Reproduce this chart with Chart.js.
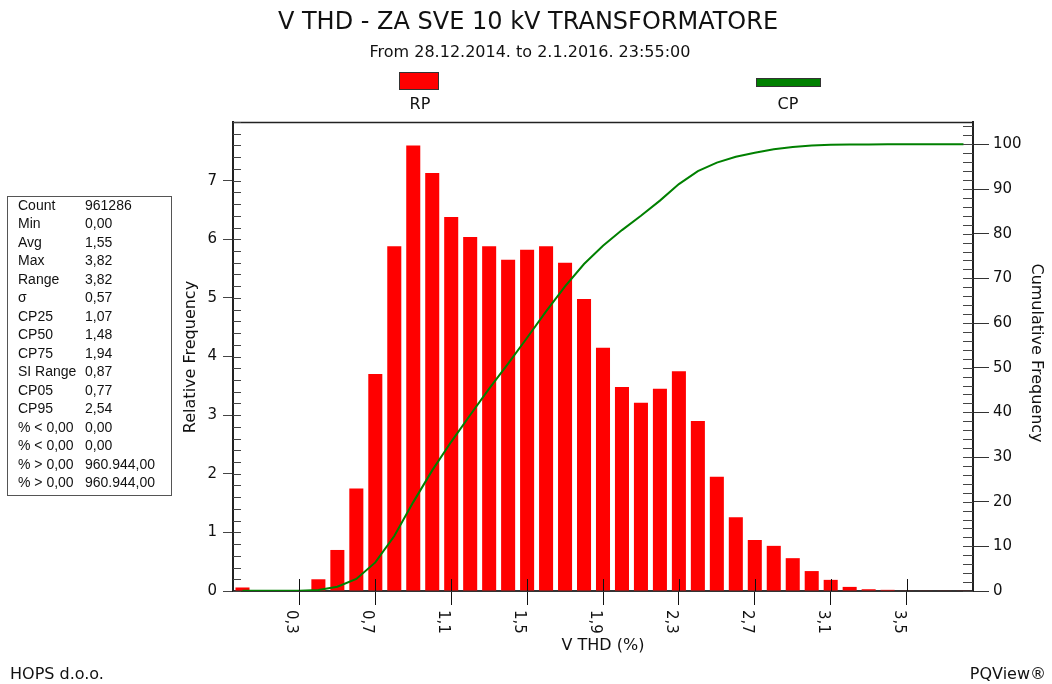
<!DOCTYPE html>
<html>
<head>
<meta charset="utf-8">
<title>V THD - ZA SVE 10 kV TRANSFORMATORE</title>
<script src="https://cdn.jsdelivr.net/npm/chart.js@4.4.1/dist/chart.umd.min.js"></script>
<style>
    html, body { margin: 0; padding: 0; background: #fff; }
    #wrap { width: 1052px; height: 684px; }
</style>
</head>
<body>
<div id="wrap"><canvas id="thd" width="1052" height="684"></canvas></div>
<script>
(function () {
    "use strict";

    // Bin centres, V THD (%)
    var bins = [0.0, 0.1, 0.2, 0.3, 0.4, 0.5, 0.6, 0.7, 0.8, 0.9,
                1.0, 1.1, 1.2, 1.3, 1.4, 1.5, 1.6, 1.7, 1.8, 1.9,
                2.0, 2.1, 2.2, 2.3, 2.4, 2.5, 2.6, 2.7, 2.8, 2.9,
                3.0, 3.1, 3.2, 3.3, 3.4, 3.5, 3.6, 3.7, 3.8];

    // RP - relative frequency (%)
    var relFreq = [0.06, 0, 0, 0, 0.2, 0.7, 1.75, 3.7, 5.88, 7.6,
                   7.13, 6.38, 6.04, 5.88, 5.65, 5.82, 5.88, 5.6, 4.98, 4.15,
                   3.48, 3.21, 3.45, 3.75, 2.9, 1.95, 1.26, 0.87, 0.77, 0.56,
                   0.34, 0.19, 0.07, 0.03, 0.02, 0.01, 0.01, 0.01, 0.01];

    // CP - cumulative frequency (%)
    var cumFreq = [0.05, 0.05, 0.05, 0.05, 0.25, 0.95, 2.7, 6.4, 12.3, 19.9,
                   27.0, 33.4, 39.4, 45.3, 50.9, 56.7, 62.6, 68.2, 73.2, 77.3,
                   80.8, 84.0, 87.4, 91.1, 94.0, 95.9, 97.2, 98.1, 98.9, 99.4,
                   99.75, 99.92, 99.97, 99.99, 100, 100, 100, 100, 100];

    var xTicks = [0.3, 0.7, 1.1, 1.5, 1.9, 2.3, 2.7, 3.1, 3.5];
    var leftTicks = [0, 1, 2, 3, 4, 5, 6, 7];
    var rightTicks = [0, 10, 20, 30, 40, 50, 60, 70, 80, 90, 100];

    // Statistics box
    var statNames = ["Count", "Min", "Avg", "Max", "Range", "\u03c3", "CP25", "CP50",
                     "CP75", "SI Range", "CP05", "CP95", "% < 0,00", "% < 0,00",
                     "% > 0,00", "% > 0,00"];
    var statValues = ["961286", "0,00", "1,55", "3,82", "3,82", "0,57", "1,07", "1,48",
                      "1,94", "0,87", "0,77", "2,54", "0,00", "0,00",
                      "960.944,00", "960.944,00"];

    var FONT = '"DejaVu Sans", Verdana, sans-serif';
    var RED = "#ff0000";
    var GREEN = "#008000";

    Chart.defaults.font.family = FONT;
    Chart.defaults.color = "#111";

    function comma(v) {
        return v.toFixed(1).replace(".", ",");
    }

    // Titles, legend, stats, extra ticks
    var decor = {
        id: "decor",
        afterDraw: function (chart) {
            var ctx = chart.ctx;
            var a = chart.chartArea;
            var sx = chart.scales.x, yl = chart.scales.y, yr = chart.scales.y2;
            var i, p;

            ctx.save();

            // top frame
            ctx.strokeStyle = "#222";
            ctx.lineWidth = 1.5;
            ctx.beginPath();
            ctx.moveTo(a.left, a.top + 0.5);
            ctx.lineTo(a.right, a.top + 0.5);
            ctx.stroke();

            // inner ticks
            ctx.strokeStyle = "#444";
            ctx.lineWidth = 1;
            ctx.beginPath();
            for (i = 0; i <= 40; i++) {
                p = Math.round(yl.getPixelForValue(i * 0.2)) + 0.5;
                ctx.moveTo(a.left, p);
                ctx.lineTo(a.left + 8, p);
            }
            for (i = 0; i <= 52; i++) {
                p = Math.round(yr.getPixelForValue(i * 2)) + 0.5;
                ctx.moveTo(a.right, p);
                ctx.lineTo(a.right - 10, p);
            }
            ctx.stroke();
            ctx.strokeStyle = "#111";
            ctx.beginPath();
            xTicks.forEach(function (v) {
                var px = Math.round(sx.getPixelForValue(v)) + 0.5;
                ctx.moveTo(px, a.bottom);
                ctx.lineTo(px, a.bottom - 12);
            });
            ctx.stroke();

            // x tick labels, turned clockwise
            ctx.fillStyle = "#111";
            ctx.font = "15px " + FONT;
            ctx.textAlign = "left";
            ctx.textBaseline = "alphabetic";
            xTicks.forEach(function (v) {
                var px = sx.getPixelForValue(v);
                ctx.save();
                ctx.translate(px - 12, a.bottom + 19);
                ctx.rotate(Math.PI / 2);
                ctx.fillText(comma(v), 0, 0);
                ctx.restore();
            });

            // axis titles
            ctx.textAlign = "center";
            ctx.textBaseline = "middle";
            ctx.font = "16px " + FONT;
            ctx.fillText("V THD (%)", 603, 646);
            ctx.save();
            ctx.translate(191, 357);
            ctx.rotate(-Math.PI / 2);
            ctx.fillText("Relative Frequency", 0, 0);
            ctx.restore();
            ctx.save();
            ctx.translate(1036, 353);
            ctx.rotate(Math.PI / 2);
            ctx.fillText("Cumulative Frequency", 0, 0);
            ctx.restore();

            // title
            ctx.font = "24px " + FONT;
            ctx.fillText("V THD - ZA SVE 10 kV TRANSFORMATORE", 528, 23);
            ctx.font = "16px " + FONT;
            ctx.fillText("From 28.12.2014. to 2.1.2016. 23:55:00", 530, 53);

            // legend
            ctx.fillStyle = RED;
            ctx.fillRect(399, 72, 39, 17);
            ctx.strokeStyle = "#333";
            ctx.strokeRect(399.5, 72.5, 39, 17);
            ctx.fillStyle = GREEN;
            ctx.fillRect(756, 78, 64, 8);
            ctx.strokeRect(756.5, 78.5, 64, 8);
            ctx.fillStyle = "#111";
            ctx.fillText("RP", 420, 105);
            ctx.fillText("CP", 788, 105);

            // footer
            ctx.textAlign = "left";
            ctx.fillText("HOPS d.o.o.", 10, 675);
            ctx.textAlign = "right";
            ctx.fillText("PQView\u00ae", 1046, 675);

            // stats box
            ctx.strokeStyle = "#555";
            ctx.strokeRect(7.5, 196.5, 164, 299);
            ctx.font = '14px "Liberation Sans", Arial, sans-serif';
            ctx.textAlign = "left";
            ctx.fillStyle = "#111";
            for (i = 0; i < statNames.length; i++) {
                ctx.fillText(statNames[i], 18, 206 + i * 18.5);
                ctx.fillText(statValues[i], 85, 206 + i * 18.5);
            }

            ctx.restore();
        }
    };

    var ctx = document.getElementById("thd").getContext("2d");
    var chart = new Chart(ctx, {
        type: "bar",
        data: {
            datasets: [{
                type: "line",
                label: "CP",
                data: bins.map(function (b, i) { return {x: b, y: cumFreq[i]}; }),
                yAxisID: "y2",
                borderColor: GREEN,
                borderWidth: 2,
                pointRadius: 0,
                tension: 0,
                fill: false,
                order: 0
            }, {
                type: "bar",
                label: "RP",
                data: bins.map(function (b, i) { return {x: b, y: relFreq[i]}; }),
                yAxisID: "y",
                backgroundColor: RED,
                borderWidth: 0,
                barPercentage: 0.74,
                categoryPercentage: 1.0,
                order: 1
            }]
        },
        options: {
            responsive: false,
            animation: false,
            layout: {padding: {top: 122, left: 0, right: 0, bottom: 0}},
            plugins: {
                legend: {display: false},
                tooltip: {enabled: false}
            },
            scales: {
                x: {
                    type: "linear",
                    min: -0.05,
                    max: 3.85,
                    offset: false,
                    afterBuildTicks: function (scale) {
                        scale.ticks = xTicks.map(function (v) { return {value: v}; });
                    },
                    afterFit: function (scale) { scale.height = 93; },
                    ticks: {display: false},
                    grid: {offset: false, drawOnChartArea: false, drawTicks: true, tickLength: 14, color: "#111"},
                    border: {display: true, color: "#333", width: 2}
                },
                y: {
                    position: "left",
                    min: 0,
                    max: 8,
                    afterBuildTicks: function (scale) {
                        scale.ticks = leftTicks.map(function (v) { return {value: v}; });
                    },
                    afterFit: function (scale) { scale.width = 233; },
                    ticks: {font: {size: 15}, padding: 6, color: "#111"},
                    grid: {offset: false, drawOnChartArea: false, drawTicks: true, tickLength: 10, color: "#444"},
                    border: {display: true, color: "#222", width: 2}
                },
                y2: {
                    position: "right",
                    min: 0,
                    max: 105,
                    afterBuildTicks: function (scale) {
                        scale.ticks = rightTicks.map(function (v) { return {value: v}; });
                    },
                    afterFit: function (scale) { scale.width = 79; },
                    ticks: {font: {size: 15}, padding: 4, color: "#111"},
                    grid: {offset: false, drawOnChartArea: false, drawTicks: true, tickLength: 16, color: "#333"},
                    border: {display: true, color: "#222", width: 2}
                }
            }
        },
        plugins: [decor]
    });
})();
</script>
</body>
</html>
